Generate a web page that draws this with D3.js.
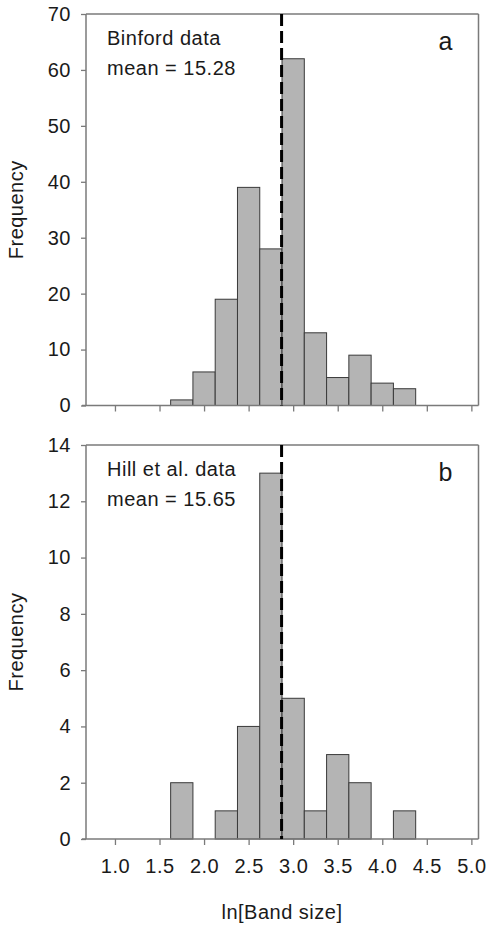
<!DOCTYPE html>
<html>
<head>
<meta charset="utf-8">
<script src="https://d3js.org/d3.v7.min.js"></script>
<style>
    body { margin: 0; background: #fff; }
    svg text { font-family: "Liberation Sans", Arial, sans-serif; fill: #1a1a1a; letter-spacing: 0.5px; }
    .axis .domain { stroke: none; }
    .axis line { stroke: #7a7a7a; stroke-width: 1.3; }
    .axis text { font-size: 20px; }
</style>
</head>
<body>
<svg id="chart" width="486" height="926"></svg>
<script>
    // bin start values (ln band size), bin width 0.25
    const binStarts = [1.625, 1.875, 2.125, 2.375, 2.625, 2.875, 3.125, 3.375, 3.625, 3.875, 4.125];
    const binfordCounts = [1, 6, 19, 39, 28, 62, 13, 5, 9, 4, 3];
    const hillCounts = [2, 0, 1, 4, 13, 5, 1, 3, 2, 0, 1];
    const binWidth = 0.25;
    const meanLine = 2.87;
    const xTicks = [1.0, 1.5, 2.0, 2.5, 3.0, 3.5, 4.0, 4.5, 5.0];
    const binfordTicks = [0, 10, 20, 30, 40, 50, 60, 70];
    const hillTicks = [0, 2, 4, 6, 8, 10, 12, 14];

    const svg = d3.select("#chart");

    const x = d3.scaleLinear().domain([0.675, 5.08]).range([86, 478.5]);

    const panels = [
        { counts: binfordCounts, ticks: binfordTicks, max: 70, top: 14, bottom: 405.5,
          title: "Binford data", mean: "mean = 15.28", letter: "a", labels: false },
        { counts: hillCounts, ticks: hillTicks, max: 14, top: 445, bottom: 839,
          title: "Hill et al. data", mean: "mean = 15.65", letter: "b", labels: true }
    ];

    panels.forEach(p => {
        const y = d3.scaleLinear().domain([0, p.max]).range([p.bottom, p.top]);
        const g = svg.append("g");

        // bars
        g.selectAll("rect.bar")
            .data(binStarts.map((s, i) => ({ s: s, c: p.counts[i] })).filter(d => d.c > 0))
            .join("rect")
            .attr("class", "bar")
            .attr("x", d => x(d.s))
            .attr("width", d => x(d.s + binWidth) - x(d.s))
            .attr("y", d => y(d.c))
            .attr("height", d => y(0) - y(d.c))
            .attr("fill", "#b4b4b4")
            .attr("stroke", "#3a3a3a")
            .attr("stroke-width", 1);

        // frame lines
        const frame = [
            [x.range()[0], p.top, x.range()[1], p.top],
            [x.range()[1], p.top, x.range()[1], p.bottom],
            [x.range()[0], p.top, x.range()[0], p.bottom],
            [x.range()[0] - 4, p.bottom, x.range()[1], p.bottom]
        ];
        frame.forEach(f => {
            g.append("line")
                .attr("x1", f[0]).attr("y1", f[1]).attr("x2", f[2]).attr("y2", f[3])
                .attr("stroke", "#7a7a7a").attr("stroke-width", 1.5);
        });

        // y axis
        g.append("g")
            .attr("class", "axis")
            .attr("transform", "translate(" + x.range()[0] + ",0)")
            .call(d3.axisLeft(y).tickValues(p.ticks).tickSize(5).tickPadding(10).tickFormat(d3.format("d")));

        // x axis
        g.append("g")
            .attr("class", "axis")
            .attr("transform", "translate(0," + p.bottom + ")")
            .call(d3.axisBottom(x).tickValues(xTicks).tickSize(6).tickPadding(14)
                .tickFormat(p.labels ? d3.format(".1f") : ""));

        // mean line
        g.append("line")
            .attr("x1", x(meanLine)).attr("x2", x(meanLine))
            .attr("y1", p.top).attr("y2", p.bottom)
            .attr("stroke", "#000").attr("stroke-width", 3)
            .attr("stroke-dasharray", "12,5");

        // annotations
        g.append("text").attr("x", 107).attr("y", p.top + 31)
            .attr("font-size", 20).text(p.title);
        g.append("text").attr("x", 107).attr("y", p.top + 61)
            .attr("font-size", 20).text(p.mean);
        g.append("text").attr("x", 453).attr("y", p.top + 36)
            .attr("font-size", 25).attr("text-anchor", "end").text(p.letter);

        // y label
        g.append("text")
            .attr("transform", "translate(23," + ((p.top + p.bottom) / 2) + ") rotate(-90)")
            .attr("text-anchor", "middle")
            .attr("font-size", 20)
            .text("Frequency");
    });

    svg.append("text")
        .attr("x", 282).attr("y", 919)
        .attr("text-anchor", "middle")
        .attr("font-size", 20)
        .text("ln[Band size]");
</script>
</body>
</html>
